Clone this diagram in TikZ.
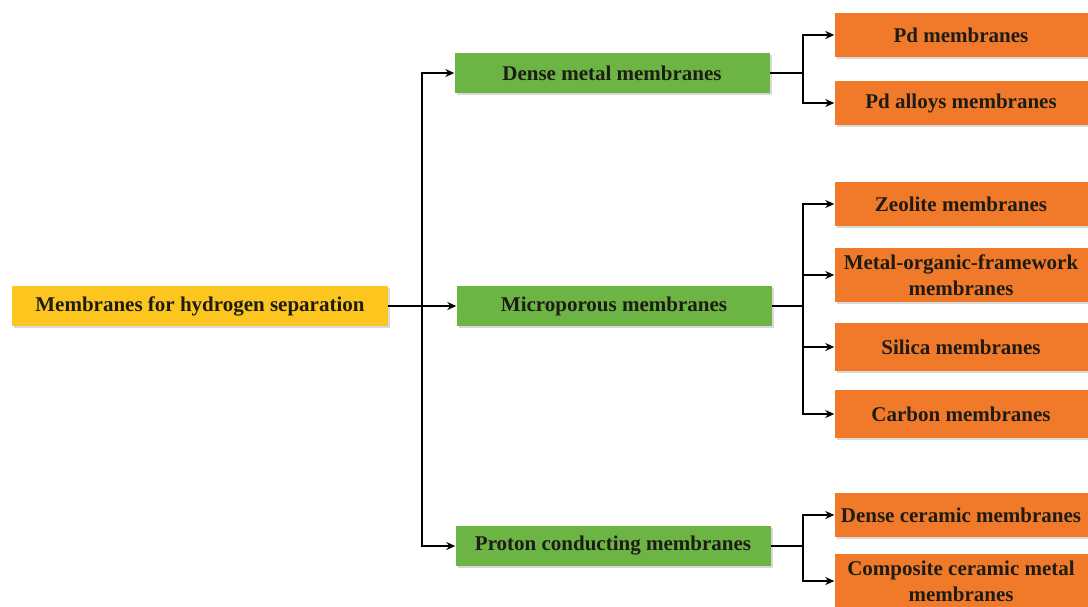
\documentclass[tikz,border=0pt]{standalone}
\usepackage{fontspec}
\setmainfont{Liberation Serif}
\usetikzlibrary{arrows.meta, shadows}

\definecolor{rootyellow}{RGB}{252,198,30}
\definecolor{midgreen}{RGB}{108,180,68}
\definecolor{leaforange}{RGB}{240,122,42}
\definecolor{inkdark}{RGB}{30,28,20}

\begin{document}
\begin{tikzpicture}[
x=1pt, y=-1pt,
font=\fontsize{21}{26}\selectfont\bfseries,
box/.style={rectangle, inner sep=0pt, align=center, text=inkdark,
  drop shadow={opacity=0.3, shadow xshift=2pt, shadow yshift=-2pt}},
rootbox/.style={box, fill=rootyellow, minimum width=376pt, minimum height=40pt},
midbox/.style={box, fill=midgreen, minimum width=315pt, minimum height=40pt},
leafbox/.style={box, fill=leaforange, minimum width=253pt, minimum height=44pt},
arrow/.style={-{Stealth[length=9pt, width=8pt]}, line width=1.8pt},
line/.style={line width=1.8pt}
]
\useasboundingbox (0,0) rectangle (1088,606);

\node[rootbox] (root) at (200,306) {Membranes for hydrogen separation};

\node[midbox] (dense) at (612,73) {Dense metal membranes};
\node[midbox] (micro) at (614,306) {Microporous membranes};
\node[midbox] (proton) at (613,546) {Proton conducting membranes};

\node[leafbox] (pd) at (961,35) {Pd membranes};
\node[leafbox] (pdalloy) at (961,103) {Pd alloys membranes};
\node[leafbox] (zeolite) at (961,204) {Zeolite membranes};
\node[leafbox, minimum height=54pt] (mof) at (961,275) {Metal-organic-framework\\membranes};
\node[leafbox, minimum height=48pt] (silica) at (961,347) {Silica membranes};
\node[leafbox, minimum height=48pt] (carbon) at (961,414) {Carbon membranes};
\node[leafbox] (ceramic) at (961,515) {Dense ceramic membranes};
\node[leafbox, minimum height=54pt] (composite) at (961,581) {Composite ceramic metal\\membranes};

% branch points
\coordinate (split) at (422,306);
\coordinate (b1) at (803,73);
\coordinate (b2) at (803,306);
\coordinate (b3) at (803,546);

\draw[line] (root) -- (split);
\draw[arrow] (split) |- (dense);
\draw[arrow] (split) -- (micro);
\draw[arrow] (split) |- (proton);

\draw[line] (dense) -- (b1);
\draw[arrow] (b1) |- (pd);
\draw[arrow] (b1) |- (pdalloy);

\draw[line] (micro) -- (b2);
\draw[arrow] (b2) |- (zeolite);
\draw[arrow] (b2) |- (mof);
\draw[arrow] (b2) |- (silica);
\draw[arrow] (b2) |- (carbon);

\draw[line] (proton) -- (b3);
\draw[arrow] (b3) |- (ceramic);
\draw[arrow] (b3) |- (composite);
\end{tikzpicture}
\end{document}
